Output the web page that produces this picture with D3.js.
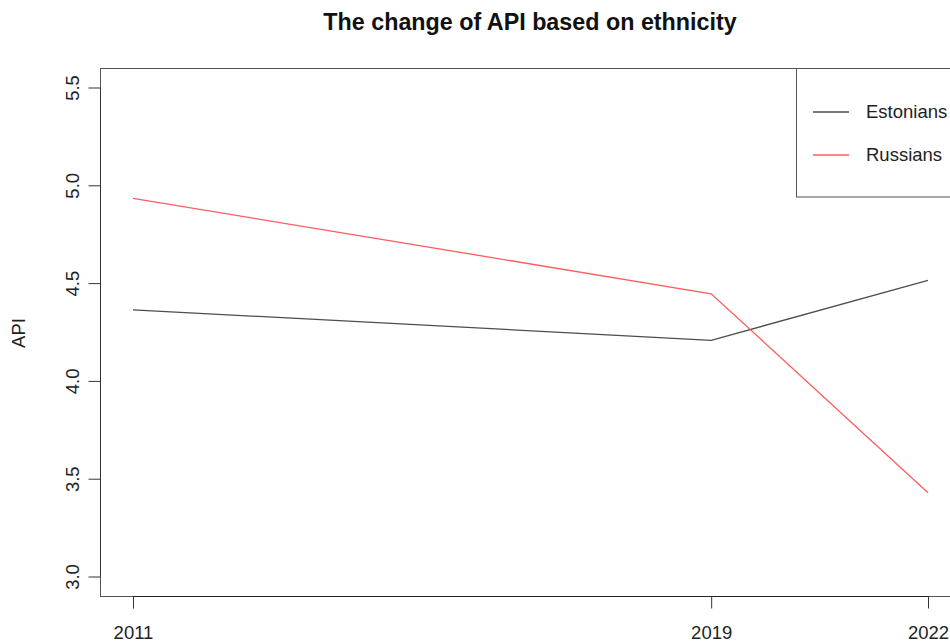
<!DOCTYPE html>
<html><head><meta charset="utf-8">
<script src="https://cdn.jsdelivr.net/npm/d3@7"></script>
<style>body{margin:0;background:#fff}svg{display:block}text{font-family:"Liberation Sans",Arial,sans-serif}</style>
</head><body>
<svg id="c" width="950" height="642"></svg>
<script>
const years = [2011, 2019, 2022];
const estonians = [4.366, 4.210, 4.516];
const russians = [4.936, 4.448, 3.431];
const yTicks = [3.0, 3.5, 4.0, 4.5, 5.0, 5.5];
const seriesNames = ["Estonians", "Russians"];
const seriesColors = ["#4d4d4d", "#ff5c5c"];

const svg = d3.select("#c");
const x = d3.scaleLinear().domain([2011, 2022]).range([133, 928]);
const y = d3.scaleLinear().domain([3.0, 5.5]).range([577, 88]);
const box = {l: 100.5, t: 68.5, r: 1000, b: 596.5};
const fs = 18.5;

svg.append("rect").attr("x", box.l).attr("y", box.t).attr("width", box.r - box.l).attr("height", box.b - box.t)
  .attr("fill", "none").attr("stroke", "#555").attr("stroke-width", 1);

// Y axis
const ya = svg.append("g").attr("transform", `translate(${box.l},0)`)
  .call(d3.axisLeft(y).tickValues(yTicks).tickFormat(d3.format(".1f")).tickSize(12).tickPadding(0));
ya.select(".domain").attr("d", `M0,${y(3.0)}V${y(5.5)}`).attr("stroke", "#333");
ya.selectAll(".tick").attr("transform", null);
ya.selectAll(".tick line").attr("stroke", "#333").attr("y1", d => y(d)).attr("y2", d => y(d)).attr("x2", -12);
ya.selectAll(".tick text").attr("x", 0).attr("y", 0).attr("dy", "0.35em")
  .attr("text-anchor", "middle").attr("font-size", fs).attr("fill", "#222")
  .attr("transform", d => `translate(-28,${y(d)}) rotate(-90)`);

// X axis
const xa = svg.append("g").attr("transform", `translate(0,${box.b})`)
  .call(d3.axisBottom(x).tickValues(years).tickFormat(d3.format("d")).tickSize(12));
xa.select(".domain").attr("d", `M${x(2011)},0H${x(2022)}`).attr("stroke", "#222");
xa.selectAll(".tick line").attr("stroke", "#333");
xa.selectAll(".tick text").attr("y", 42).attr("dy", null).attr("font-size", fs).attr("fill", "#222");

// Lines
const line = d3.line().x((d, i) => x(years[i])).y(d => y(d));
[estonians, russians].forEach((s, i) => {
  svg.append("path").datum(s).attr("d", line).attr("fill", "none")
    .attr("stroke", seriesColors[i]).attr("stroke-width", 1.3);
});

// Title
svg.append("text").attr("x", 530).attr("y", 30).attr("text-anchor", "middle")
  .attr("font-size", 23.3).attr("font-weight", "bold").attr("fill", "#111")
  .text("The change of API based on ethnicity");

// Y label
svg.append("text").attr("transform", "translate(25,333) rotate(-90)").attr("text-anchor", "middle")
  .attr("font-size", fs).attr("fill", "#222").text("API");

// Legend
svg.append("rect").attr("x", 796.5).attr("y", 68.5).attr("width", 200).attr("height", 128.5)
  .attr("fill", "#fff").attr("stroke", "#555");
seriesNames.forEach((n, i) => {
  const ly = 112 + i * 43;
  svg.append("line").attr("x1", 813).attr("x2", 849).attr("y1", ly).attr("y2", ly)
    .attr("stroke", seriesColors[i]).attr("stroke-width", 1.3);
  svg.append("text").attr("x", 866).attr("y", ly).attr("dy", "0.35em")
    .attr("font-size", fs).attr("fill", "#222").text(n);
});
</script>
</body></html>
